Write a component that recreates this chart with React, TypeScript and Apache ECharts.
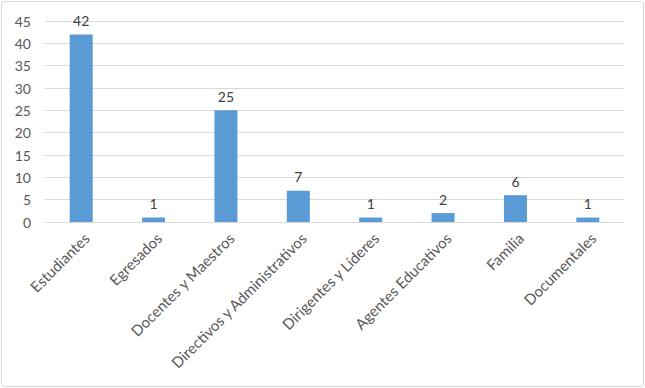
import React, { useEffect, useRef } from "react";
import * as echarts from "echarts";

const categories = [
  "Estudiantes",
  "Egresados",
  "Docentes y Maestros",
  "Directivos y Administrativos",
  "Dirigentes y Líderes",
  "Agentes Educativos",
  "Familia",
  "Documentales",
];
const values = [42, 1, 25, 7, 1, 2, 6, 1];

export default function App() {
  const ref = useRef<HTMLDivElement>(null);
  useEffect(() => {
    document.body.style.margin = "0";
    const chart = echarts.init(ref.current!, null, { renderer: "svg" });
    chart.setOption({
      animation: false,
      grid: { left: 45, right: 21, top: 21, bottom: 166 },
      xAxis: {
        type: "category",
        data: categories,
        axisLine: { lineStyle: { color: "#d9d9d9", width: 1 } },
        axisTick: { show: false },
        axisLabel: {
          rotate: 45,
          interval: 0,
          color: "#595959",
          fontSize: 15,
          fontFamily: "Lato",
          margin: 8,
          verticalAlign: "top",
        },
      },
      yAxis: {
        type: "value",
        min: 0,
        max: 45,
        interval: 5,
        axisLine: { show: false },
        axisTick: { show: false },
        splitLine: { lineStyle: { color: "#d9d9d9", width: 1 } },
        axisLabel: { color: "#595959", fontSize: 14, fontFamily: "Lato", margin: 14 },
      },
      series: [
        {
          type: "bar",
          data: values,
          barWidth: 23,
          itemStyle: { color: "#5b9bd5" },
          label: {
            show: true,
            position: "top",
            distance: 7,
            color: "#404040",
            fontSize: 14,
            fontFamily: "Lato",
          },
        },
      ],
    });
    return () => chart.dispose();
  }, []);
  return (
    <div
      style={{
        width: 645,
        height: 388,
        position: "relative",
        background: "#fff",
      }}
    >
      <div
        style={{
          position: "absolute",
          left: 1,
          top: 1,
          right: 1,
          bottom: 1,
          border: "1px solid #d9d9d9",
          borderRadius: 3,
        }}
      />
      <div ref={ref} style={{ position: "absolute", left: 0, top: 0, width: 645, height: 388 }} />
    </div>
  );
}
